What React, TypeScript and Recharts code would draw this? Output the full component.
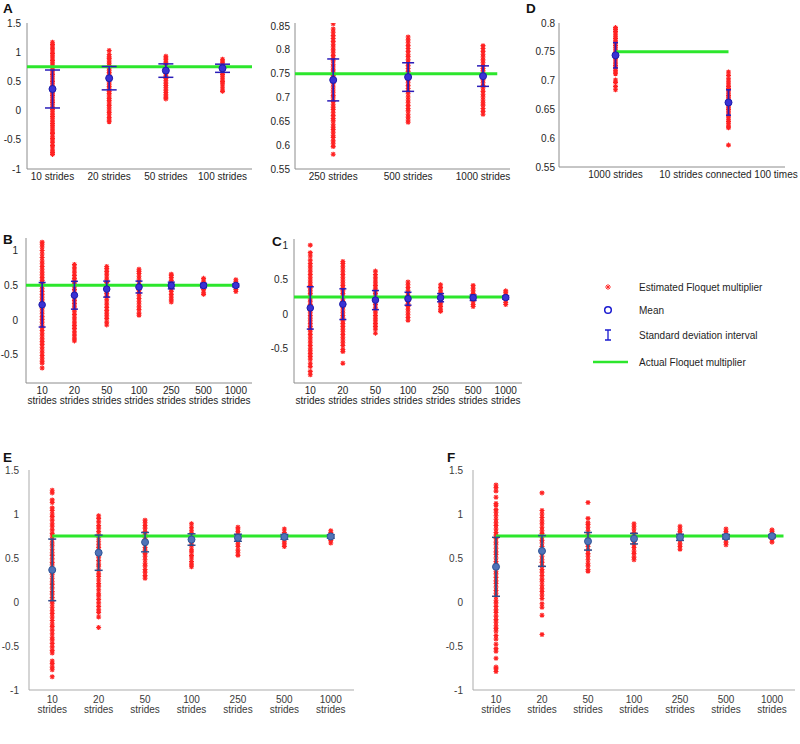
import React from "react";
import { ScatterChart, Scatter, XAxis, YAxis } from "recharts";

const FONT = "'Liberation Sans', Arial, sans-serif";
const RED = "#ff2222";
const GREEN = "#2ce62c";

// ---- A (left): short runs ----
const catsA1 = ["10 strides", "20 strides", "50 strides", "100 strides"];
const estA1 = [
  [-0.75, -0.72, -0.69, -0.64, -0.6, -0.55, -0.52, -0.48, -0.44, -0.39, -0.37, -0.33, -0.28, -0.26, -0.22, -0.18, -0.14, -0.1, -0.06, -0.02, 0.02, 0.06, 0.1, 0.14, 0.18, 0.22, 0.26, 0.3, 0.34, 0.38, 0.42, 0.46, 0.5, 0.54, 0.58, 0.62, 0.66, 0.7, 0.74, 0.78, 0.82, 0.86, 0.9, 0.94, 0.98, 1.02, 1.06, 1.09, 1.13, 1.17],
  [-0.19, -0.16, -0.12, -0.07, -0.03, 0.01, 0.05, 0.09, 0.13, 0.17, 0.21, 0.25, 0.29, 0.33, 0.37, 0.41, 0.45, 0.49, 0.53, 0.57, 0.61, 0.65, 0.69, 0.73, 0.77, 0.81, 0.85, 0.89, 0.92, 0.96, 1.03],
  [0.2, 0.23, 0.27, 0.31, 0.35, 0.39, 0.43, 0.47, 0.51, 0.55, 0.59, 0.63, 0.67, 0.71, 0.75, 0.79, 0.83, 0.87, 0.9, 0.93],
  [0.33, 0.37, 0.42, 0.47, 0.5, 0.54, 0.58, 0.62, 0.66, 0.7, 0.74, 0.78, 0.82, 0.85, 0.88],
];
const meanA1 = [0.37, 0.555, 0.685, 0.725];
const sdA1 = [0.325, 0.2, 0.115, 0.07];

// ---- A (right): long runs ----
const catsA2 = ["250 strides", "500 strides", "1000 strides"];
const estA2 = [
  [0.581, 0.597, 0.603, 0.609, 0.616, 0.621, 0.627, 0.633, 0.638, 0.644, 0.651, 0.656, 0.662, 0.668, 0.675, 0.68, 0.686, 0.692, 0.699, 0.704, 0.71, 0.716, 0.722, 0.729, 0.734, 0.74, 0.746, 0.753, 0.758, 0.764, 0.77, 0.777, 0.782, 0.788, 0.794, 0.8, 0.806, 0.812, 0.818, 0.824, 0.83, 0.837, 0.844, 0.855],
  [0.648, 0.653, 0.659, 0.665, 0.672, 0.677, 0.683, 0.689, 0.695, 0.701, 0.708, 0.713, 0.719, 0.725, 0.731, 0.737, 0.744, 0.749, 0.755, 0.761, 0.767, 0.773, 0.779, 0.786, 0.791, 0.797, 0.803, 0.809, 0.815, 0.821, 0.827],
  [0.665, 0.671, 0.677, 0.684, 0.689, 0.695, 0.701, 0.707, 0.713, 0.72, 0.725, 0.731, 0.737, 0.743, 0.749, 0.756, 0.761, 0.767, 0.773, 0.779, 0.785, 0.791, 0.797, 0.803, 0.809],
];
const meanA2 = [0.737, 0.743, 0.745];
const sdA2 = [0.044, 0.03, 0.0215];

// ---- D ----
const catsD = ["1000 strides", "10 strides connected 100 times"];
const estD = [
  [0.684, 0.69, 0.697, 0.701, 0.712, 0.715, 0.718, 0.722, 0.726, 0.73, 0.734, 0.738, 0.741, 0.745, 0.749, 0.753, 0.757, 0.761, 0.765, 0.769, 0.773, 0.777, 0.781, 0.785, 0.789, 0.792],
  [0.588, 0.618, 0.621, 0.625, 0.629, 0.633, 0.637, 0.642, 0.646, 0.65, 0.654, 0.658, 0.662, 0.666, 0.67, 0.674, 0.678, 0.682, 0.686, 0.69, 0.694, 0.698, 0.703, 0.709, 0.715],
];
const meanD = [0.744, 0.662];
const sdD = [0.022, 0.022];

const strideNums = ["10", "20", "50", "100", "250", "500", "1000"];

// ---- B ----
const estB = [
  [-0.69, -0.62, -0.59, -0.55, -0.51, -0.47, -0.43, -0.39, -0.35, -0.31, -0.27, -0.23, -0.19, -0.15, -0.11, -0.07, -0.03, 0.01, 0.05, 0.09, 0.13, 0.17, 0.21, 0.25, 0.29, 0.33, 0.37, 0.41, 0.45, 0.49, 0.53, 0.57, 0.61, 0.65, 0.69, 0.73, 0.77, 0.81, 0.85, 0.9, 0.95, 1.0, 1.05, 1.09, 1.12],
  [-0.3, -0.27, -0.23, -0.2, -0.16, -0.12, -0.08, -0.04, 0, 0.04, 0.08, 0.12, 0.16, 0.2, 0.24, 0.28, 0.32, 0.36, 0.4, 0.44, 0.48, 0.52, 0.56, 0.6, 0.64, 0.68, 0.72, 0.76, 0.8],
  [-0.07, -0.03, 0.02, 0.06, 0.1, 0.14, 0.18, 0.22, 0.26, 0.3, 0.34, 0.38, 0.42, 0.46, 0.5, 0.54, 0.58, 0.62, 0.66, 0.7, 0.74, 0.77],
  [0.07, 0.1, 0.15, 0.19, 0.23, 0.27, 0.31, 0.35, 0.39, 0.43, 0.47, 0.51, 0.55, 0.59, 0.63, 0.67, 0.7, 0.73],
  [0.26, 0.29, 0.33, 0.37, 0.41, 0.45, 0.49, 0.53, 0.57, 0.61, 0.64, 0.66],
  [0.37, 0.4, 0.44, 0.48, 0.52, 0.56, 0.6],
  [0.41, 0.44, 0.48, 0.52, 0.55, 0.58],
];
const meanB = [0.22, 0.357, 0.445, 0.475, 0.497, 0.497, 0.498];
const sdB = [0.32, 0.2, 0.115, 0.085, 0.048, 0.032, 0.022];

// ---- C ----
const estC = [
  [-0.89, -0.84, -0.77, -0.72, -0.66, -0.62, -0.58, -0.54, -0.5, -0.46, -0.42, -0.38, -0.34, -0.3, -0.26, -0.22, -0.18, -0.14, -0.1, -0.06, -0.02, 0.02, 0.06, 0.1, 0.14, 0.18, 0.22, 0.26, 0.3, 0.34, 0.38, 0.42, 0.46, 0.5, 0.54, 0.58, 0.62, 0.66, 0.7, 0.74, 0.79, 0.85, 0.9, 1.01],
  [-0.72, -0.55, -0.52, -0.46, -0.42, -0.38, -0.34, -0.3, -0.26, -0.22, -0.18, -0.14, -0.1, -0.06, -0.02, 0.02, 0.06, 0.1, 0.14, 0.18, 0.22, 0.26, 0.3, 0.34, 0.38, 0.42, 0.46, 0.5, 0.54, 0.58, 0.62, 0.66, 0.7, 0.74, 0.77],
  [-0.28, -0.22, -0.18, -0.14, -0.1, -0.06, -0.02, 0.02, 0.06, 0.1, 0.14, 0.18, 0.22, 0.26, 0.3, 0.34, 0.38, 0.42, 0.46, 0.5, 0.54, 0.58, 0.63],
  [-0.09, -0.05, -0.01, 0.03, 0.07, 0.11, 0.15, 0.19, 0.23, 0.27, 0.31, 0.35, 0.39, 0.43, 0.47],
  [0.04, 0.07, 0.11, 0.15, 0.19, 0.23, 0.27, 0.31, 0.35, 0.39, 0.43],
  [0.11, 0.14, 0.18, 0.22, 0.26, 0.3, 0.34, 0.38, 0.42],
  [0.14, 0.17, 0.21, 0.25, 0.29, 0.32, 0.34],
];
const meanC = [0.09, 0.145, 0.205, 0.225, 0.24, 0.24, 0.242];
const sdC = [0.31, 0.225, 0.14, 0.095, 0.06, 0.04, 0.025];

// ---- E ----
const estE = [
  [-0.85, -0.77, -0.74, -0.7, -0.67, -0.58, -0.55, -0.51, -0.47, -0.43, -0.4, -0.36, -0.32, -0.28, -0.25, -0.21, -0.17, -0.13, -0.1, -0.06, -0.02, 0.01, 0.05, 0.09, 0.12, 0.16, 0.2, 0.23, 0.27, 0.31, 0.34, 0.38, 0.42, 0.45, 0.49, 0.53, 0.56, 0.6, 0.64, 0.67, 0.71, 0.75, 0.78, 0.82, 0.86, 0.89, 0.93, 0.97, 1.0, 1.04, 1.07, 1.13, 1.16, 1.24, 1.27],
  [-0.29, -0.17, -0.12, -0.09, -0.05, -0.01, 0.03, 0.07, 0.1, 0.14, 0.18, 0.21, 0.25, 0.29, 0.32, 0.36, 0.4, 0.43, 0.47, 0.51, 0.54, 0.58, 0.62, 0.65, 0.69, 0.73, 0.76, 0.8, 0.84, 0.87, 0.91, 0.95, 0.98],
  [0.27, 0.3, 0.34, 0.37, 0.41, 0.44, 0.48, 0.52, 0.55, 0.59, 0.62, 0.66, 0.7, 0.73, 0.77, 0.8, 0.84, 0.87, 0.9, 0.93],
  [0.4, 0.43, 0.46, 0.5, 0.53, 0.57, 0.6, 0.64, 0.67, 0.71, 0.74, 0.78, 0.81, 0.85, 0.89],
  [0.53, 0.56, 0.59, 0.63, 0.66, 0.7, 0.73, 0.77, 0.8, 0.83, 0.85],
  [0.63, 0.66, 0.69, 0.72, 0.76, 0.79, 0.83],
  [0.67, 0.7, 0.73, 0.76, 0.79, 0.81],
];
const meanE = [0.365, 0.56, 0.68, 0.71, 0.73, 0.74, 0.745];
const sdE = [0.35, 0.2, 0.11, 0.065, 0.04, 0.027, 0.02];

// ---- F ----
const estF = [
  [-0.79, -0.76, -0.74, -0.64, -0.56, -0.53, -0.48, -0.42, -0.38, -0.33, -0.3, -0.27, -0.23, -0.2, -0.16, -0.12, -0.09, -0.05, -0.01, 0.02, 0.06, 0.1, 0.13, 0.17, 0.21, 0.24, 0.28, 0.32, 0.35, 0.39, 0.43, 0.46, 0.5, 0.54, 0.57, 0.61, 0.65, 0.68, 0.72, 0.76, 0.79, 0.83, 0.87, 0.9, 0.94, 0.98, 1.02, 1.05, 1.1, 1.12, 1.19, 1.26, 1.3, 1.33],
  [-0.37, -0.15, -0.06, -0.02, 0.04, 0.08, 0.12, 0.15, 0.19, 0.23, 0.26, 0.3, 0.34, 0.37, 0.41, 0.45, 0.48, 0.52, 0.56, 0.59, 0.63, 0.67, 0.7, 0.74, 0.78, 0.81, 0.85, 0.89, 0.92, 0.96, 1.0, 1.04, 1.24],
  [0.35, 0.37, 0.41, 0.44, 0.48, 0.52, 0.55, 0.59, 0.63, 0.66, 0.7, 0.74, 0.77, 0.81, 0.85, 0.88, 0.9, 0.95, 1.13],
  [0.48, 0.51, 0.55, 0.58, 0.62, 0.65, 0.69, 0.72, 0.76, 0.79, 0.83, 0.86, 0.89],
  [0.6, 0.63, 0.66, 0.7, 0.73, 0.77, 0.8, 0.83, 0.86],
  [0.65, 0.68, 0.71, 0.74, 0.77, 0.8, 0.83],
  [0.68, 0.71, 0.74, 0.77, 0.8, 0.82],
];
const meanF = [0.4, 0.58, 0.69, 0.72, 0.735, 0.742, 0.748];
const sdF = [0.335, 0.175, 0.1, 0.06, 0.035, 0.025, 0.018];

const ticksWide = [-1, -0.5, 0, 0.5, 1, 1.5];
const ticksHalf = [-0.5, 0, 0.5, 1];
const ticksFine = [0.55, 0.6, 0.65, 0.7, 0.75, 0.8, 0.85];
const ticksD = [0.55, 0.6, 0.65, 0.7, 0.75, 0.8];

const THEMES = {
  old: { axis: "#8c8c8c", text: "#1e1e1e", err: "#2a1cb8", fill: "#3a32d4", ring: "#1c1caa" },
  new: { axis: "#ababab", text: "#3a3a3a", err: "#2e4e8e", fill: "#4f73b8", ring: "#2f5597" },
};

const Star = (p: any) => {
  const { cx, cy } = p;
  const a = 2.5;
  const d = 1.8;
  return (
    <path
      d={`M${cx - a},${cy}H${cx + a}M${cx},${cy - a}V${cy + a}M${cx - d},${cy - d}L${cx + d},${cy + d}M${cx - d},${cy + d}L${cx + d},${cy - d}`}
      stroke={RED}
      strokeWidth={1.1}
      fill="none"
    />
  );
};

function CatTick(props: any) {
  const { x, y, payload, labels, twoLine, color } = props;
  const lab = labels[Math.round(payload.value) - 1];
  if (lab === undefined) return null;
  if (twoLine) {
    return (
      <g>
        <text x={x} y={y + twoLine[0]} textAnchor="middle" fontSize={10} fontFamily={FONT} fill={color}>
          {lab}
        </text>
        <text x={x} y={y + twoLine[0] + twoLine[1]} textAnchor="middle" fontSize={10} fontFamily={FONT} fill={color}>
          strides
        </text>
      </g>
    );
  }
  return (
    <text x={x} y={y + 10.5} textAnchor="middle" fontSize={10} fontFamily={FONT} fill={color}>
      {lab}
    </text>
  );
}

interface PanelProps {
  x0: number; x1: number; y0: number; y1: number;
  xDomain: [number, number];
  yDomain: [number, number];
  yTicks: number[];
  labels: string[];
  twoLine?: [number, number];
  est: number[][];
  means: number[];
  sds: number[];
  actual: number;
  span: [number, number];
  theme: "old" | "new";
  cap: number;
  gap: number;
  meanR: number;
  extraRight?: number;
}

function Panel(p: PanelProps) {
  const t = THEMES[p.theme];
  const padR = 10 + (p.extraRight || 0);
  const w = p.x1 - p.x0 + 40 + padR;
  const h = p.y1 - p.y0 + 40;
  const pts = p.est.flatMap((vals, i) => vals.map((v) => ({ x: i + 1, y: v })));
  const meanPts = p.means.map((m, i) => ({ x: i + 1, y: m }));
  const sdPairs = p.means.map((m, i) => [
    { x: i + 1, y: m - p.sds[i] },
    { x: i + 1, y: m + p.sds[i] },
  ]);
  const green = [
    { x: p.span[0], y: p.actual },
    { x: p.span[1], y: p.actual },
  ];
  const xTicks = p.labels.map((_, i) => i + 1);
  const capShape = (s: any) => (
    <line x1={s.cx - p.cap} x2={s.cx + p.cap} y1={s.cy} y2={s.cy} stroke={t.err} strokeWidth={1.5} />
  );
  return (
    <div style={{ position: "absolute", left: p.x0 - 40, top: p.y0 - 10 }}>
      <ScatterChart width={w} height={h} margin={{ top: 10, right: padR, bottom: 30, left: 0 }}>
        <XAxis
          type="number"
          dataKey="x"
          domain={p.xDomain}
          ticks={xTicks}
          interval={0}
          allowDataOverflow
          height={30}
          axisLine={{ stroke: t.axis }}
          tickLine={false}
          tickSize={0}
          tickMargin={0}
          tick={<CatTick labels={p.labels} twoLine={p.twoLine} color={t.text} />}
        />
        <YAxis
          type="number"
          dataKey="y"
          domain={p.yDomain}
          ticks={p.yTicks}
          interval={0}
          allowDataOverflow
          width={40}
          axisLine={{ stroke: t.axis }}
          tickLine={false}
          tickSize={p.gap}
          tickMargin={0}
          tick={{ fontSize: 10, fontFamily: FONT, fill: t.text }}
        />
        <Scatter data={pts} shape={Star} isAnimationActive={false} />
        <Scatter
          data={green}
          line={{ stroke: GREEN, strokeWidth: 3 }}
          shape={() => <g />}
          isAnimationActive={false}
        />
        {sdPairs.map((pair, i) => (
          <Scatter
            key={i}
            data={pair}
            line={{ stroke: t.err, strokeWidth: 1.7 }}
            shape={capShape}
            isAnimationActive={false}
          />
        ))}
        <Scatter
          data={meanPts}
          isAnimationActive={false}
          shape={(s: any) => (
            <circle cx={s.cx} cy={s.cy} r={p.meanR} fill={t.fill} stroke={t.ring} strokeWidth={1} />
          )}
        />
      </ScatterChart>
    </div>
  );
}

function Overlay() {
  const letter = (ch: string, x: number, y: number) => (
    <text x={x} y={y} fontSize={13.5} fontWeight="bold" fontFamily={FONT} fill="#111">
      {ch}
    </text>
  );
  const item = (y: number, label: string) => (
    <text x={639} y={y + 3.5} fontSize={10} fontFamily={FONT} fill="#1e1e1e">
      {label}
    </text>
  );
  return (
    <svg width={800} height={744} style={{ position: "absolute", left: 0, top: 0, pointerEvents: "none" }}>
      {letter("A", 3, 13)}
      {letter("D", 526, 13)}
      {letter("B", 3, 244)}
      {letter("C", 272, 246)}
      {letter("E", 3, 462)}
      {letter("F", 447, 462)}
      <path d="M605,287H611M608,284V290M606,285L610,289M606,289L610,285" stroke={RED} strokeWidth={0.9} />
      {item(287, "Estimated Floquet multiplier")}
      <circle cx={608} cy={310} r={3.3} fill="none" stroke="#1a1ad0" strokeWidth={1.5} />
      {item(310, "Mean")}
      <path d="M605,330H611M608,330V340M605,340H611" stroke="#1a1ad0" strokeWidth={1.3} fill="none" />
      {item(335, "Standard deviation interval")}
      <line x1={593} x2={628} y1={362} y2={362} stroke={GREEN} strokeWidth={2.5} />
      {item(362, "Actual Floquet multiplier")}
    </svg>
  );
}

export default function App() {
  return (
    <div style={{ position: "absolute", left: 0, top: 0, width: 800, height: 744, overflow: "hidden", background: "#fff" }}>
      <Panel x0={27} x1={252} y0={23} y1={199} xDomain={[0.55, 4.52]} yDomain={[-1, 1.5]} yTicks={ticksWide}
        labels={catsA1} est={estA1} means={meanA1} sds={sdA1} actual={0.75} span={[0.55, 4.52]}
        theme="old" cap={7.5} gap={6} meanR={3.5} />
      <Panel x0={295} x1={510} y0={23} y1={199} xDomain={[0.49, 3.36]} yDomain={[0.55, 0.8565]} yTicks={ticksFine}
        labels={catsA2} est={estA2} means={meanA2} sds={sdA2} actual={0.75} span={[0.49, 3.19]}
        theme="old" cap={6} gap={5} meanR={3.5} />
      <Panel x0={559} x1={785} y0={23} y1={197} xDomain={[0.5, 2.5]} yDomain={[0.55, 0.8]} yTicks={ticksD}
        labels={catsD} est={estD} means={meanD} sds={sdD} actual={0.75} span={[1, 2]}
        theme="old" cap={2.5} gap={4} meanR={3.5} extraRight={20} />
      <Panel x0={26} x1={252} y0={238} y1={413} xDomain={[0.5, 7.5]} yDomain={[-0.905, 1.18]} yTicks={ticksHalf}
        labels={strideNums} twoLine={[10.5, 10]} est={estB} means={meanB} sds={sdB} actual={0.5} span={[0.5, 7.09]}
        theme="old" cap={3.5} gap={8} meanR={3.3} />
      <Panel x0={294} x1={522} y0={239} y1={413} xDomain={[0.5, 7.5]} yDomain={[-1.01, 1.1]} yTicks={ticksHalf}
        labels={strideNums} twoLine={[10.5, 10]} est={estC} means={meanC} sds={sdC} actual={0.25} span={[0.5, 7.07]}
        theme="old" cap={3.5} gap={6} meanR={3.3} />
      <Panel x0={29} x1={354} y0={470} y1={720} xDomain={[0.5, 7.5]} yDomain={[-1, 1.5]} yTicks={ticksWide}
        labels={strideNums} twoLine={[13, 10]} est={estE} means={meanE} sds={sdE} actual={0.75} span={[1, 7.05]}
        theme="new" cap={4} gap={10} meanR={3.5} />
      <Panel x0={473} x1={795} y0={470} y1={720} xDomain={[0.5, 7.5]} yDomain={[-1, 1.5]} yTicks={ticksWide}
        labels={strideNums} twoLine={[13, 10]} est={estF} means={meanF} sds={sdF} actual={0.75} span={[1, 7.25]}
        theme="new" cap={4} gap={10} meanR={3.5} />
      <Overlay />
    </div>
  );
}
